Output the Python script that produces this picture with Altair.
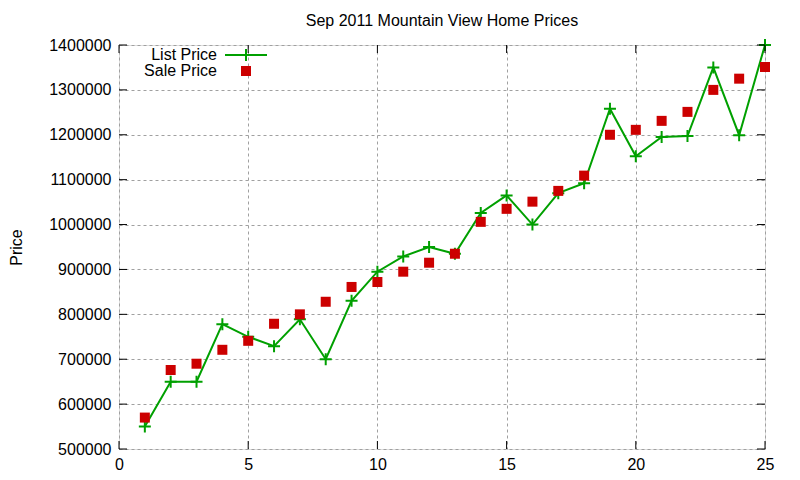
import altair as alt
import pandas as pd

# Data
homes = list(range(1, 26))
list_price = [550000, 650000, 650000, 778000, 750000, 729000, 789000, 700000, 830000, 895000,
              929000, 950000, 935000, 1026000, 1065000, 1000000, 1070000, 1092000, 1258000, 1152000,
              1195000, 1197000, 1350000, 1199000, 1400000]
sale_price = [570000, 676000, 690000, 721000, 741000, 779000, 800000, 828000, 861000, 872000,
              895000, 915000, 935000, 1006000, 1035000, 1051000, 1075000, 1109000, 1200000, 1211000,
              1231000, 1251000, 1300000, 1325000, 1351000]
x_ticks = [0, 5, 10, 15, 20, 25]
y_ticks = [500000, 600000, 700000, 800000, 900000, 1000000, 1100000, 1200000, 1300000, 1400000]

GREEN = "#00a000"
RED = "#cc0000"
FONT = "Liberation Sans"
W, H = 646, 404

df = pd.DataFrame({"home": homes, "list": list_price, "sale": sale_price})
xt = pd.DataFrame({"t": x_ticks})
yt = pd.DataFrame({"t": y_ticks})

xscale = alt.Scale(domain=[0, 25], nice=False, zero=False)
yscale = alt.Scale(domain=[500000, 1400000], nice=False, zero=False)

xaxis = alt.Axis(values=x_ticks, title=None, grid=True, ticks=False, domain=False,
                 gridColor="#a0a0a0", gridDash=[3, 3], gridWidth=1,
                 labelFont=FONT, labelFontSize=16, labelColor="black", labelPadding=7,
                 labelFlush=False)
yaxis = alt.Axis(values=y_ticks, title="Price", grid=True, ticks=False, domain=False,
                 gridColor="#a0a0a0", gridDash=[3, 3], gridWidth=1,
                 labelFont=FONT, labelFontSize=16, labelColor="black", labelPadding=8,
                 titleFont=FONT, titleFontSize=16, titleFontWeight="normal", titleColor="black",
                 titlePadding=24, format="d", labelFlush=False)

plus_path = "M-1,0L1,0M0,-1L0,1"

line = alt.Chart(df).mark_line(color=GREEN, strokeWidth=2).encode(
    x=alt.X("home:Q", scale=xscale, axis=xaxis),
    y=alt.Y("list:Q", scale=yscale, axis=yaxis),
)
pts = alt.Chart(df).mark_point(shape=plus_path, size=144, filled=False, color=GREEN,
                               strokeWidth=2, opacity=1).encode(
    x=alt.X("home:Q", scale=xscale),
    y=alt.Y("list:Q", scale=yscale),
)
sale = alt.Chart(df).mark_square(size=100, color=RED, opacity=1).encode(
    x=alt.X("home:Q", scale=xscale),
    y=alt.Y("sale:Q", scale=yscale),
)

# inward tick marks (gnuplot style) on all four sides
tick_style = dict(color="black", strokeWidth=1)
yt_left = alt.Chart(yt).mark_rule(**tick_style).encode(
    y=alt.Y("t:Q", scale=yscale), x=alt.value(0), x2=alt.value(8))
yt_right = alt.Chart(yt).mark_rule(**tick_style).encode(
    y=alt.Y("t:Q", scale=yscale), x=alt.value(W - 8), x2=alt.value(W))
xt_bot = alt.Chart(xt).mark_rule(**tick_style).encode(
    x=alt.X("t:Q", scale=xscale), y=alt.value(H - 8), y2=alt.value(H))
xt_top = alt.Chart(xt).mark_rule(**tick_style).encode(
    x=alt.X("t:Q", scale=xscale), y=alt.value(0), y2=alt.value(8))

# Legend (top-left, labels left of samples)
leg = pd.DataFrame({"label": ["List Price", "Sale Price"], "ly": [10, 26]})
leg_text = alt.Chart(leg).mark_text(align="right", baseline="middle", font=FONT,
                                    fontSize=16, color="black").encode(
    text="label:N", x=alt.value(98), y=alt.Y("ly:Q", scale=None))
leg_line = alt.Chart(leg.iloc[[0]]).mark_rule(color=GREEN, strokeWidth=2).encode(
    x=alt.value(106), x2=alt.value(148), y=alt.Y("ly:Q", scale=None))
leg_plus = alt.Chart(leg.iloc[[0]]).mark_point(shape=plus_path, size=144, filled=False,
                                                 color=GREEN, strokeWidth=2, opacity=1).encode(
    x=alt.value(127), y=alt.Y("ly:Q", scale=None))
leg_sq = alt.Chart(leg.iloc[[1]]).mark_square(size=100, color=RED, opacity=1).encode(
    x=alt.value(127), y=alt.Y("ly:Q", scale=None))

chart = alt.layer(
    line, pts, sale, yt_left, yt_right, xt_bot, xt_top,
    leg_text, leg_line, leg_plus, leg_sq
).properties(
    width=W, height=H,
    title=alt.TitleParams("Sep 2011 Mountain View Home Prices", font=FONT, fontSize=16,
                          fontWeight="normal", color="black", anchor="middle", offset=6),
    autosize=alt.AutoSizeParams(type="none"),
    padding={"left": 111, "top": 37, "right": 20, "bottom": 32},
).configure_view(
    stroke="black", strokeWidth=1
).configure(background="white")

chart.save("out.html", embed_options={"renderer": "svg", "actions": False})
